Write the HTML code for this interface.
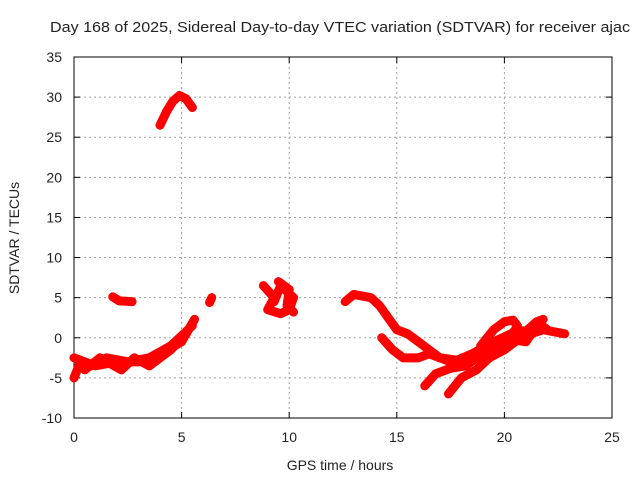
<!DOCTYPE html>
<html><head><meta charset="utf-8"><style>
body{margin:0;background:#fff;}
svg{display:block;font-family:"Liberation Sans",sans-serif;}
</style></head><body>
<svg id="c" width="640" height="480"></svg>
<script>
const xTicks=[0,5,10,15,20,25];
const yTicks=[-10,-5,0,5,10,15,20,25,30,35];
const trackArc=[[4.0,26.5],[4.3,28.2],[4.6,29.5],[4.9,30.2],[5.2,29.8],[5.5,28.7]];
const trackSmall=[[1.8,5.1],[2.1,4.6],[2.7,4.5]];
const trackDot=[[6.3,4.4],[6.4,5.0]];
const trackEarlyA=[[0,-5],[0.3,-3],[0.8,-3.5],[1.5,-2.5],[2.5,-3],[3.5,-2.5],[4.5,-1],[5.5,1.5]];
const trackEarlyB=[[0,-2.5],[1,-3.5],[2,-3],[3,-3],[4,-2],[5,-0.5],[5.6,2.3]];
const trackEarlyC=[[0.5,-4],[1.2,-2.5],[2.2,-4],[2.8,-2.5],[3.5,-3.5],[4.5,-1.5],[5.2,0.5]];
const trackMidA=[[8.8,6.5],[9.3,5],[9.0,3.5],[9.6,3.0],[10.0,3.5],[10.2,5],[9.6,6.5],[9.3,4.5]];
const trackMidB=[[9.5,7],[10,6],[9.9,4],[10.2,3.2]];
const trackMain=[[12.6,4.5],[13,5.4],[13.8,5],[14.2,4],[14.6,2.5],[15,1],[15.5,0.5],[16,-0.5],[16.5,-1.5],[17,-2.5],[17.8,-2.8],[18.5,-2],[19.5,-0.5],[20.3,0.5],[21,0.3],[21.8,1],[22.8,0.5]];
const trackBranch=[[14.3,0],[14.8,-1.5],[15.3,-2.5],[16,-2.5],[16.5,-2],[17.5,-3],[18.5,-2.5],[19.5,-1],[20.3,-0.2],[21,-0.5],[21.6,1.8],[22,1]];
const trackLow1=[[16.3,-6],[16.8,-4.5],[17.5,-3.8],[18.2,-3.5],[19,-2]];
const trackLow2=[[17.4,-7],[18,-5],[18.7,-4],[19.3,-2.5],[20,-1.5],[20.5,-0.5]];
const trackUp1=[[18.9,-1],[19.5,1],[20,2],[20.4,2.2],[20.6,1.5]];
const trackUp2=[[20.1,-0.5],[20.5,1],[21,0.8],[21.5,2],[21.8,2.3]];
const tracks=[trackArc,trackSmall,trackDot,trackEarlyA,trackEarlyB,trackEarlyC,trackMidA,trackMidB,trackMain,trackBranch,trackLow1,trackLow2,trackUp1,trackUp2];

const L=74,R=612,T=57,B=418;
const X=h=>L+(h-0)/(25-0)*(R-L);
const Y=v=>B-(v+10)/(45)*(B-T);
const svg=document.getElementById('c');
const NS='http://www.w3.org/2000/svg';
function mk(t,a,txt){const e=document.createElementNS(NS,t);for(const k in a)e.setAttribute(k,a[k]);if(txt!==undefined)e.textContent=txt;svg.appendChild(e);return e;}
let e;
e=mk('text',{x:50,y:32,'font-size':15,'text-anchor':'start',fill:'#222',textLength:580,lengthAdjust:'spacingAndGlyphs'},'Day 168 of 2025, Sidereal Day-to-day VTEC variation (SDTVAR) for receiver ajac');


xTicks.forEach(t=>{
 if(t>0&&t<25){e=mk('line',{x1:X(t),x2:X(t),y1:T,y2:B,stroke:'#a0a0a0','stroke-dasharray':'2,3'});
 }
 mk('line',{x1:X(t),x2:X(t),y1:B,y2:B-6,stroke:'#000'});mk('line',{x1:X(t),x2:X(t),y1:T,y2:T+6,stroke:'#000'});
 e=mk('text',{x:X(t),y:B+24,'font-size':14,'text-anchor':'middle',fill:'#222'},String(t));
 
});
yTicks.forEach(t=>{
 if(t>-10&&t<35){e=mk('line',{x1:L,x2:R,y1:Y(t),y2:Y(t),stroke:'#a0a0a0','stroke-dasharray':'2,3'});
 }
 mk('line',{x1:L,x2:L+6,y1:Y(t),y2:Y(t),stroke:'#000'});mk('line',{x1:R,x2:R-6,y1:Y(t),y2:Y(t),stroke:'#000'});
 e=mk('text',{x:L-12,y:Y(t)+5,'font-size':14,'text-anchor':'end',fill:'#222'},String(t));
 
});
e=mk('rect',{x:L,y:T,width:R-L,height:B-T,fill:'none',stroke:'#000'});

tracks.forEach(tr=>{
 e=mk('polyline',{points:tr.map(p=>X(p[0])+','+Y(p[1])).join(' '),fill:'none',stroke:'#ff0000','stroke-width':9,'stroke-linejoin':'round','stroke-linecap':'round'});
 
 
});
e=mk('text',{x:340,y:470,'font-size':14,'text-anchor':'middle',fill:'#222'},'GPS time / hours');

e=mk('text',{x:0,y:0,'font-size':14,'text-anchor':'middle',fill:'#222',transform:'translate(19,238) rotate(-90)'},'SDTVAR / TECUs');

</script>
</body></html>
